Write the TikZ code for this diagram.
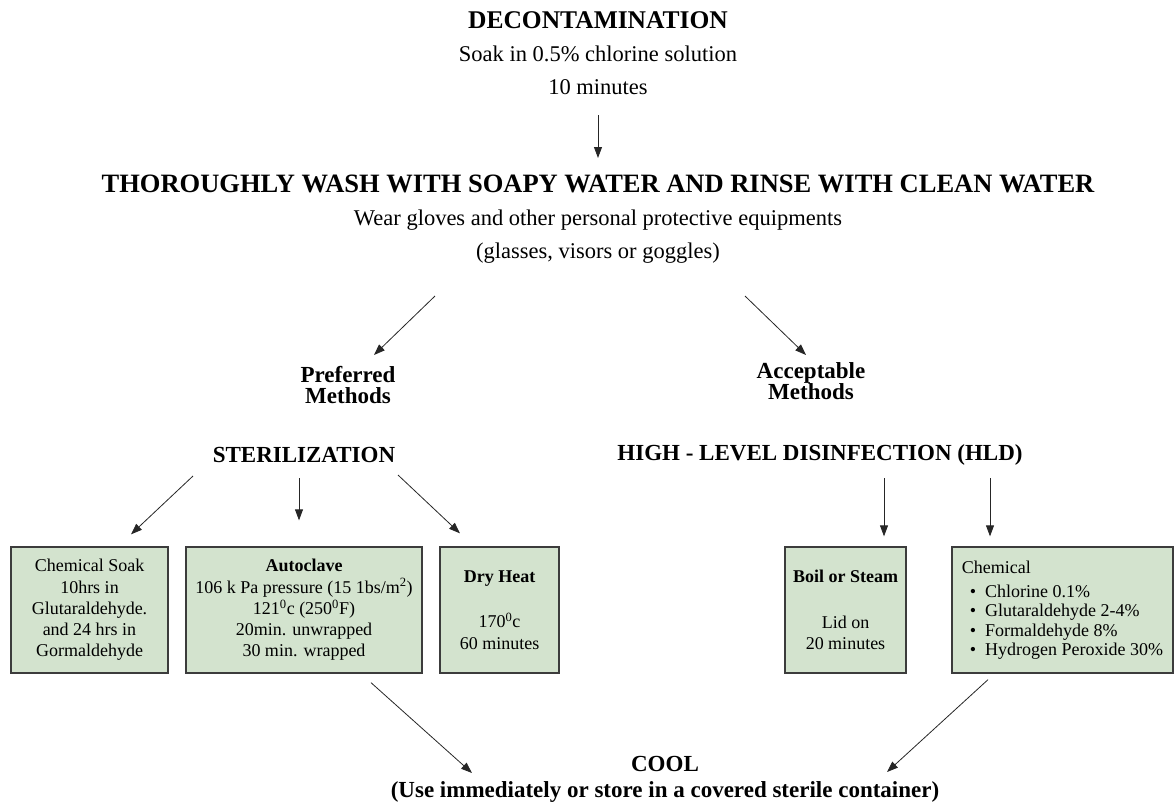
\documentclass[tikz,border=0pt]{standalone}
\usepackage{fontspec}
\setmainfont{Liberation Serif}
\usetikzlibrary{arrows.meta, positioning, calc}
\definecolor{cBox}{RGB}{211,227,206}
\definecolor{cEdge}{RGB}{60,60,60}
\tikzset{
	toptext/.style={align=center, font=\fontsize{22.5}{33}\selectfont, inner sep=2pt},
	heading/.style={align=center, font=\bfseries\fontsize{23}{21}\selectfont, inner sep=2pt},
	method/.style={rectangle, draw=cEdge, line width=1.3pt, fill=cBox, minimum height=126pt, align=center, inner sep=0pt, font=\fontsize{18}{21.3}\selectfont},
	flowarrow/.style={-{Triangle[length=11pt,width=8pt]}, line width=0.8pt, black!85},
}
\begin{document}
\begin{tikzpicture}[x=1pt, y=-1pt]
	\useasboundingbox (0,0) rectangle (1175,804);
	% top steps
	\node[toptext] (decon) at (598,53) {{\bfseries\fontsize{25.5}{33}\selectfont DECONTAMINATION}\\Soak in 0.5\% chlorine solution\\10 minutes};
	\node[toptext] (wash) at (598,219) {{\bfseries\fontsize{26.5}{33}\selectfont THOROUGHLY WASH WITH SOAPY WATER AND RINSE WITH CLEAN WATER}\\Wear gloves and other personal protective equipments\\(glasses, visors or goggles)};
	\draw[flowarrow] ($(decon.center)+(0,62)$) -- ($(wash.center)+(0,-61)$);

	% two branches
	\node[heading] (pref) at (348,385) {Preferred\\Methods};
	\node[heading] (acc) at (811,381) {Acceptable\\Methods};
	\draw[flowarrow] ($(wash.center)+(-163,77)$) -- ($(pref.center)+(26,-30)$);
	\draw[flowarrow] ($(wash.center)+(147,77)$) -- ($(acc.center)+(-5,-26)$);

	\node[heading] (ster) at (304,455) {STERILIZATION};
	\node[heading] (hld) at (820,455) {HIGH - LEVEL DISINFECTION (HLD)};

	% method boxes
	\node[method, minimum width=157pt] (soak) at (89.5,610) {Chemical Soak\\10hrs in\\Glutaraldehyde.\\and 24 hrs in\\Gormaldehyde};
	\node[method, minimum width=236pt] (auto) at (304,610) {\textbf{Autoclave}\\106 k Pa pressure (15 1bs/m\textsuperscript{2})\\121\textsuperscript{0}c (250\textsuperscript{0}F)\\20min. unwrapped\\30 min. wrapped};
	\node[method, minimum width=119pt] (dry) at (499.5,610) {\textbf{Dry Heat}\\[24pt]170\textsuperscript{0}c\\60 minutes};
	\node[method, minimum width=121pt] (boil) at (845.5,610) {\textbf{Boil or Steam}\\[24pt]Lid on\\20 minutes};
	\node[method, minimum width=221pt, align=left, font=\fontsize{18}{19.5}\selectfont] (chem) at (1062.5,610) {Chemical\\[4.5pt]
		\hspace*{8pt}\textbullet\hspace{9pt}Chlorine 0.1\%\\
		\hspace*{8pt}\textbullet\hspace{9pt}Glutaraldehyde 2-4\%\\
		\hspace*{8pt}\textbullet\hspace{9pt}Formaldehyde 8\%\\
		\hspace*{8pt}\textbullet\hspace{9pt}Hydrogen Peroxide 30\%};

	\draw[flowarrow] ($(ster.center)+(-111,21)$) -- ($(soak.north)+(41.5,-12)$);
	\draw[flowarrow] ($(ster.center)+(-5,23)$) -- ($(auto.north)+(-5,-26)$);
	\draw[flowarrow] ($(ster.center)+(94,20)$) -- ($(dry.north)+(-39.5,-13)$);
	\draw[flowarrow] ($(hld.center)+(64,23)$) -- ($(boil.north)+(38.5,-10)$);
	\draw[flowarrow] ($(hld.center)+(170,23)$) -- ($(chem.north)+(-72.5,-10)$);

	% final step
	\node[heading, font=\bfseries\fontsize{23}{26}\selectfont] (cool) at (665,779) {COOL\\(Use immediately or store in a covered sterile container)};
	\draw[flowarrow] ($(auto.south)+(67,9)$) -- ($(cool.center)+(-193,-6)$);
	\draw[flowarrow] ($(chem.south)+(-74.5,6)$) -- ($(cool.center)+(222,-7)$);
\end{tikzpicture}
\end{document}
